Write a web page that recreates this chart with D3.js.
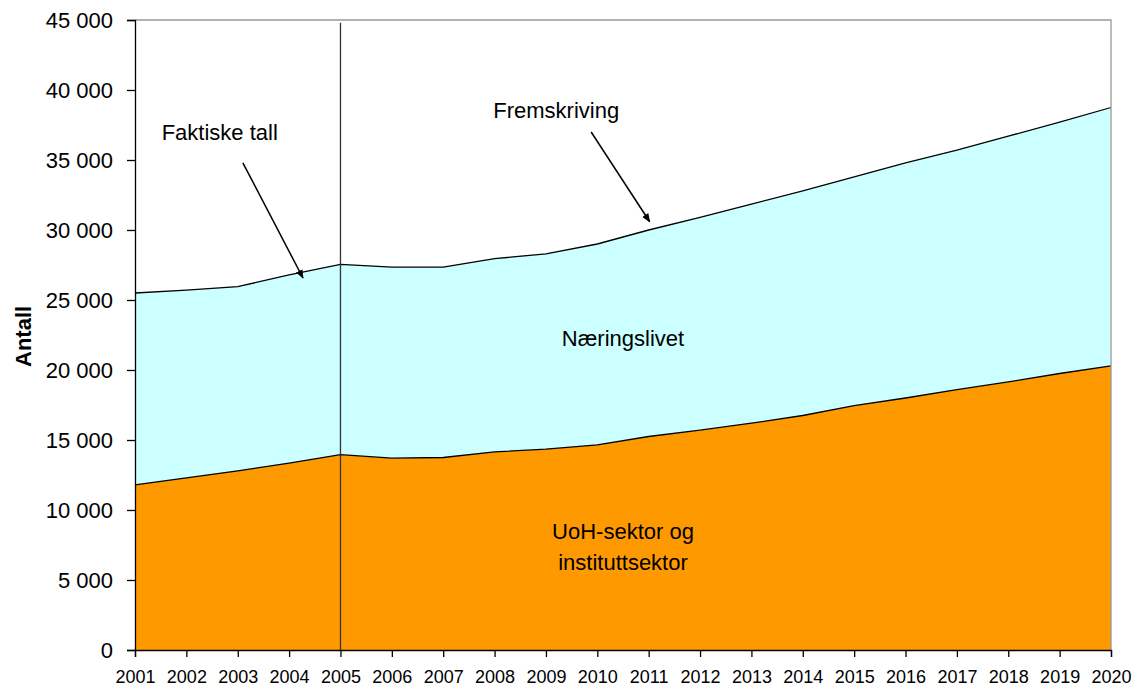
<!DOCTYPE html>
<html>
<head>
<meta charset="utf-8">
<script src="https://cdn.jsdelivr.net/npm/d3@7"></script>
<style>
    body { margin: 0; background: #fff; }
    svg { display: block; font-family: "Liberation Sans", Arial, sans-serif; }
    .tick text { fill: #000; }
</style>
</head>
<body>
<svg id="chart" width="1139" height="688"></svg>
<script>
const years = [2001, 2002, 2003, 2004, 2005, 2006, 2007, 2008, 2009, 2010,
    2011, 2012, 2013, 2014, 2015, 2016, 2017, 2018, 2019, 2020];

// UoH-sektor og instituttsektor (bottom layer)
const uoh = [11800, 12300, 12800, 13350, 13950, 13700, 13750, 14150, 14350, 14650,
    15250, 15700, 16200, 16750, 17450, 18000, 18600, 19150, 19750, 20300];

// Næringslivet (stacked on top)
const naering = [13700, 13400, 13150, 13450, 13600, 13650, 13600, 13800, 13950, 14350,
    14750, 15200, 15650, 16050, 16350, 16800, 17100, 17550, 17950, 18450];

const yTicks = [0, 5000, 10000, 15000, 20000, 25000, 30000, 35000, 40000, 45000];
const splitYear = 2005;

const svg = d3.select('#chart');
const margin = { top: 20, right: 28, bottom: 38, left: 135 };
const width = 1139, height = 688;

const x = d3.scaleLinear()
    .domain([2001, 2020])
    .range([margin.left, width - margin.right]);

const y = d3.scaleLinear()
    .domain([0, 45000])
    .range([height - margin.bottom, margin.top]);

const table = years.map((yr, i) => ({ year: yr, uoh: uoh[i], naering: naering[i] }));
const series = d3.stack().keys(['uoh', 'naering'])(table);
const fills = { uoh: '#ff9900', naering: '#ccffff' };

const area = d3.area()
    .x(d => x(d.data.year))
    .y0(d => y(d[0]))
    .y1(d => y(d[1]));

const topLine = d3.line()
    .x(d => x(d.data.year))
    .y(d => y(d[1]));

svg.selectAll('.layer')
    .data(series)
    .enter().append('path')
    .attr('class', 'layer')
    .attr('fill', d => fills[d.key])
    .attr('d', area);

svg.selectAll('.edge')
    .data(series)
    .enter().append('path')
    .attr('class', 'edge')
    .attr('fill', 'none')
    .attr('stroke', '#000')
    .attr('stroke-width', 1.3)
    .attr('d', topLine);

// plot area border (top and right)
svg.append('path')
    .attr('fill', 'none')
    .attr('stroke', '#999')
    .attr('stroke-width', 1.3)
    .attr('d', `M${x(2001)},${y(45000)}H${x(2020)}V${y(0)}`);

// divider between actual figures and projection
svg.append('line')
    .attr('x1', x(splitYear)).attr('x2', x(splitYear))
    .attr('y1', y(44800)).attr('y2', y(0))
    .attr('stroke', '#333')
    .attr('stroke-width', 1.3);

// axes
const yAxis = d3.axisLeft(y)
    .tickValues(yTicks)
    .tickSize(8)
    .tickPadding(14)
    .tickFormat(d => d3.format(',')(d).replace(/,/g, ' '));

svg.append('g')
    .attr('transform', `translate(${margin.left},0)`)
    .call(yAxis)
    .call(g => g.selectAll('text').attr('font-size', 22).attr('font-family', null))
    .call(g => g.selectAll('line, path').attr('stroke', '#000').attr('stroke-width', 1.3));

const xAxis = d3.axisBottom(x)
    .tickValues(years)
    .tickSize(7)
    .tickPadding(13)
    .tickFormat(d3.format('d'));

svg.append('g')
    .attr('transform', `translate(0,${y(0)})`)
    .call(xAxis)
    .call(g => g.selectAll('text').attr('font-size', 18).attr('font-family', null))
    .call(g => g.selectAll('line, path').attr('stroke', '#000').attr('stroke-width', 1.3));

svg.append('text')
    .attr('transform', `translate(31,${y(22400)}) rotate(-90)`)
    .attr('text-anchor', 'middle')
    .attr('font-size', 22)
    .attr('font-weight', 'bold')
    .text('Antall');

// labels inside the areas
svg.append('text')
    .attr('x', x(2010.5)).attr('y', y(21700))
    .attr('text-anchor', 'middle')
    .attr('font-size', 22)
    .text('Næringslivet');

const uohLabel = svg.append('text')
    .attr('x', x(2010.5)).attr('y', y(7950))
    .attr('text-anchor', 'middle')
    .attr('font-size', 22);
uohLabel.append('tspan').attr('x', x(2010.5)).text('UoH-sektor og');
uohLabel.append('tspan').attr('x', x(2010.5)).attr('dy', 31).text('instituttsektor');

// annotations with arrows
svg.append('defs').append('marker')
    .attr('id', 'arrow')
    .attr('viewBox', '0 0 10 10')
    .attr('refX', 9).attr('refY', 5)
    .attr('markerWidth', 9).attr('markerHeight', 9)
    .attr('markerUnits', 'userSpaceOnUse')
    .attr('orient', 'auto')
    .append('path')
    .attr('d', 'M0,1L10,5L0,9z')
    .attr('fill', '#000');

const notes = [
    { text: 'Faktiske tall', tx: 2002.65, ty: 36430, x1: 2003.1, y1: 34800, x2: 2004.27, y2: 26570 },
    { text: 'Fremskriving', tx: 2009.2, ty: 38000, x1: 2009.88, y1: 37000, x2: 2011.02, y2: 30590 }
];

notes.forEach(n => {
    svg.append('text')
        .attr('x', x(n.tx)).attr('y', y(n.ty))
        .attr('text-anchor', 'middle')
        .attr('font-size', 22)
        .text(n.text);
    svg.append('line')
        .attr('x1', x(n.x1)).attr('y1', y(n.y1))
        .attr('x2', x(n.x2)).attr('y2', y(n.y2))
        .attr('stroke', '#000')
        .attr('stroke-width', 1.5)
        .attr('marker-end', 'url(#arrow)');
});
</script>
</body>
</html>
